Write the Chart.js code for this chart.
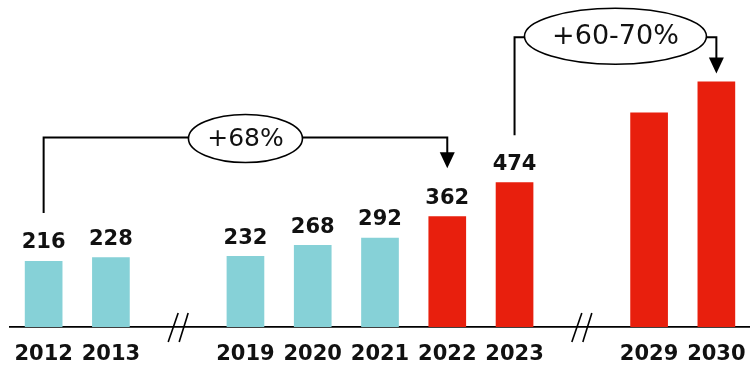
<!DOCTYPE html>
<html>
<head>
<meta charset="utf-8">
<script src="https://cdn.jsdelivr.net/npm/chart.js@4"></script>
<style>
  html, body { margin: 0; padding: 0; background: #fff; }
  #wrap { width: 750px; height: 365px; }
</style>
</head>
<body>
<div id="wrap"><canvas id="grafica"></canvas></div>
<script>
// Datos (los huecos vacíos marcan los cortes del eje)
const anios = ['2012', '2013', '', '2019', '2020', '2021', '2022', '2023', '', '2029', '2030'];
const valores = [216, 228, null, 232, 268, 292, 362, 474, null, 702, 803];
const etiquetas = ['216', '228', '', '232', '268', '292', '362', '474', '', '', ''];
const tipo = ['hist', 'hist', '', 'hist', 'hist', 'hist', 'proy', 'proy', '', 'proy', 'proy'];
const cortes = [2, 8];
const crecimientos = ['+68%', '+60-70%'];

const TURQUESA = '#86D1D7';
const ROJO = '#E81F0D';

// llaves con flecha: de una barra a otra
const llaves = [
  { desde: 0, hasta: 6, nivel: 620, sepIni: 48, sepFin: 48, rx: 57, ry: 24, dy: 1, fuente: '25px "DejaVu Sans"' },
  { desde: 7, hasta: 10, nivel: 948, sepIni: 47, sepFin: 8, rx: 91, ry: 28, dy: -1, fuente: '27px "DejaVu Sans"' }
];

const extras = {
  id: 'extras',
  afterDatasetsDraw(chart) {
    const { ctx, scales: { x, y } } = chart;
    const barras = chart.getDatasetMeta(0).data;
    ctx.save();

    // valores encima de las barras
    ctx.font = 'bold 21px "DejaVu Sans"';
    ctx.fillStyle = '#111';
    ctx.textAlign = 'center';
    ctx.textBaseline = 'alphabetic';
    barras.forEach((b, i) => {
      if (etiquetas[i]) ctx.fillText(etiquetas[i], b.x, b.y - 12.5);
    });

    // cortes del eje  //
    const base = y.getPixelForValue(0);
    ctx.strokeStyle = '#000';
    ctx.lineWidth = 1.6;
    cortes.forEach(i => {
      const cx = x.getPixelForValue(i);
      [[-10, 0], [1, 10]].forEach(([a, c]) => {
        ctx.beginPath();
        ctx.moveTo(cx + a, base + 15);
        ctx.lineTo(cx + c, base - 14);
        ctx.stroke();
      });
    });

    // llaves de crecimiento
    llaves.forEach((l, k) => {
      const x1 = x.getPixelForValue(l.desde);
      const x2 = x.getPixelForValue(l.hasta);
      const yl = y.getPixelForValue(l.nivel);
      const y1 = barras[l.desde].y - l.sepIni;
      const y2 = barras[l.hasta].y - l.sepFin;
      ctx.lineWidth = 2;
      ctx.strokeStyle = '#000';
      ctx.beginPath();
      ctx.moveTo(x1, y1);
      ctx.lineTo(x1, yl);
      ctx.lineTo(x2, yl);
      ctx.lineTo(x2, y2 - 15);
      ctx.stroke();
      ctx.fillStyle = '#000';
      ctx.beginPath();
      ctx.moveTo(x2 - 7.5, y2 - 16);
      ctx.lineTo(x2 + 7.5, y2 - 16);
      ctx.lineTo(x2, y2);
      ctx.closePath();
      ctx.fill();

      const cx = (x1 + x2) / 2;
      ctx.beginPath();
      ctx.ellipse(cx, yl + l.dy, l.rx, l.ry, 0, 0, Math.PI * 2);
      ctx.fillStyle = '#fff';
      ctx.fill();
      ctx.lineWidth = 1.6;
      ctx.stroke();
      ctx.fillStyle = '#111';
      ctx.font = l.fuente;
      ctx.textBaseline = 'middle';
      ctx.fillText(crecimientos[k], cx, yl + l.dy + 1);
    });
    ctx.restore();
  }
};

new Chart(document.getElementById('grafica'), {
  type: 'bar',
  data: {
    labels: anios,
    datasets: [{
      data: valores,
      backgroundColor: tipo.map(t => t === 'hist' ? TURQUESA : ROJO),
      borderWidth: 0,
      categoryPercentage: 1,
      barPercentage: 0.56
    }]
  },
  options: {
    responsive: true,
    maintainAspectRatio: false,
    animation: false,
    layout: { padding: { left: 10, right: 0, top: 0, bottom: 0 } },
    plugins: {
      legend: { display: false },
      tooltip: { enabled: false }
    },
    scales: {
      x: {
        grid: { display: false, drawTicks: false },
        border: { display: true, color: '#000', width: 1.8 },
        ticks: {
          color: '#111',
          font: { family: 'DejaVu Sans', size: 21, weight: 'bold' },
          padding: 15,
          maxRotation: 0,
          autoSkip: false
        },
        afterFit(scale) {
          scale.height = 38;
          scale.paddingLeft = 0;
          scale.paddingRight = 0;
        }
      },
      y: {
        display: false,
        min: 0,
        max: 1070
      }
    }
  },
  plugins: [extras]
});
</script>
</body>
</html>
